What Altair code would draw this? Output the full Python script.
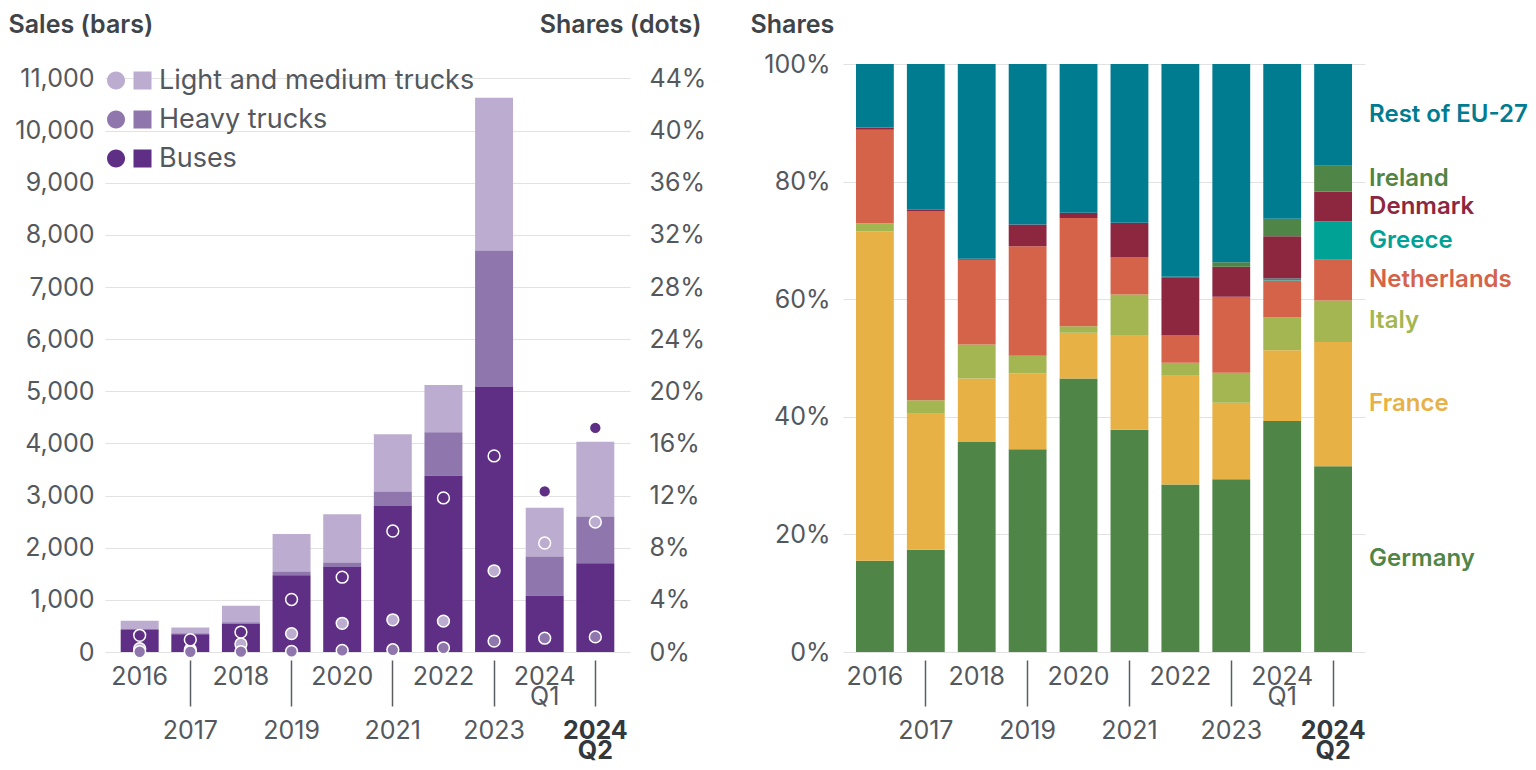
import altair as alt
import pandas as pd

FONT = "Inter"
LABEL_COLOR = "#54585d"
TITLE_COLOR = "#3f4449"
GRID_COLOR = "#e2e2e2"

periods = ["2016", "2017", "2018", "2019", "2020", "2021", "2022", "2023", "2024 Q1", "2024 Q2"]
odd_periods = ["2017", "2019", "2021", "2023", "2024 Q2"]

# ---- left panel: sales (bars) and shares (dots) ----
vehicle_types = ["Light and medium trucks", "Heavy trucks", "Buses"]
vehicle_colors = ["#bcadd0", "#8f77ae", "#5f2f86"]
vehicle_stack_order = [2, 1, 0]

sales_light = [160, 110, 315, 720, 925, 1095, 905, 2930, 935, 1435]
sales_heavy = [20, 20, 30, 75, 85, 270, 835, 2610, 750, 900]
sales_buses = [420, 340, 540, 1470, 1630, 2810, 3380, 5090, 1080, 1700]

share_light = [0.25, 0.17, 0.62, 1.41, 2.2, 2.47, 2.37, 6.23, 8.36, 9.97]
share_heavy = [0.02, 0.02, 0.03, 0.05, 0.12, 0.17, 0.32, 0.84, 1.06, 1.16]
share_buses = [1.28, 0.94, 1.53, 4.03, 5.74, 9.28, 11.82, 15.04, 12.32, 17.19]

# ---- right panel: country shares ----
countries = ["Germany", "France", "Italy", "Netherlands", "Greece", "Denmark", "Ireland", "Rest of EU-27"]
country_colors = ["#4f8546", "#e8b145", "#a4b651", "#d4634a", "#00a295", "#8d2740", "#4f8546", "#007c91"]

germany = [15.5, 17.4, 35.7, 34.5, 46.5, 37.8, 28.5, 29.4, 39.3, 31.6]
france = [56.0, 23.1, 10.8, 12.9, 7.8, 16.0, 18.5, 13.0, 12.0, 21.1]
italy = [1.4, 2.3, 5.8, 3.0, 1.1, 7.0, 2.2, 5.1, 5.6, 7.1]
netherlands = [15.9, 32.2, 14.4, 18.6, 18.4, 6.3, 4.7, 12.9, 6.3, 6.9]
greece = [0.0, 0.0, 0.0, 0.0, 0.0, 0.0, 0.0, 0.0, 0.3, 6.5]
denmark = [0.4, 0.2, 0.2, 3.7, 0.9, 5.9, 9.7, 5.1, 7.2, 5.1]
ireland = [0.0, 0.0, 0.0, 0.0, 0.0, 0.0, 0.2, 0.8, 3.0, 4.4]
rest_eu = [10.8, 24.8, 33.1, 27.3, 25.3, 27.0, 36.2, 33.7, 26.3, 17.3]

# ---- build tables ----
sales_series = [sales_light, sales_heavy, sales_buses]
share_series = [share_light, share_heavy, share_buses]
sales_rows, share_rows = [], []
for t, o, s_vals, sh_vals in zip(vehicle_types, vehicle_stack_order, sales_series, share_series):
    for p, sv, shv in zip(periods, s_vals, sh_vals):
        sales_rows.append({"period": p, "type": t, "ord": o, "sales": sv})
        share_rows.append({"period": p, "type": t, "ord": o, "share": shv})
sales_df = pd.DataFrame(sales_rows)
share_df = pd.DataFrame(share_rows)

country_series = [germany, france, italy, netherlands, greece, denmark, ireland, rest_eu]
country_rows = []
for i, (c, vals) in enumerate(zip(countries, country_series)):
    for p, v in zip(periods, vals):
        country_rows.append({"period": p, "country": c, "ord": i, "share": v})
country_df = pd.DataFrame(country_rows)

H = 588
W_L = 525
W_R = 522

odd_list = "[" + ",".join("'%s'" % p for p in odd_periods) + "]"
odd_test = "indexof(%s, datum.value) >= 0" % odd_list

# legend symbol: a dot followed by a square (unit box = the square)
DOT_SQUARE = ("M -3.94 0 A 1 1 0 1 0 -1.94 0 A 1 1 0 1 0 -3.94 0 Z "
              "M -1 -1 L 1 -1 L 1 1 L -1 1 Z")


def x_axis():
    return alt.Axis(
        title=None,
        labelAngle=0,
        domain=False,
        offset=8,
        ticks=True,
        tickSize={"condition": {"test": odd_test, "value": 46}, "value": 0},
        tickColor="#5a5e63",
        tickWidth=1.5,
        labelPadding={"condition": {"test": odd_test, "value": 12}, "value": 4},
        labelBaseline="top",
        labelFontSize=25,
        labelLineHeight=20,
        labelColor={"condition": {"test": "datum.value == '2024 Q2'", "value": "#33383d"}, "value": LABEL_COLOR},
        labelFontWeight={"condition": {"test": "datum.value == '2024 Q2'", "value": "bold"}, "value": "normal"},
        labelExpr="indexof(datum.label, ' Q') > 0 ? split(datum.label, ' ') : datum.label",
        labelOverlap=False,
        labelFlush=False,
        labelBound=False,
    )


bars = alt.Chart(sales_df).mark_bar().encode(
    x=alt.X("period:N", sort=periods,
            scale=alt.Scale(paddingInner=0.25, paddingOuter=0.31), axis=x_axis()),
    y=alt.Y("sales:Q", stack="zero",
            scale=alt.Scale(domain=[0, 11278], nice=False),
            axis=alt.Axis(values=list(range(0, 11001, 1000)), format=",d",
                          title="Sales (bars)", titleAngle=0, titleAlign="left",
                          titleBaseline="alphabetic", titleX=-97, titleY=-32,
                          grid=True, gridColor=GRID_COLOR, domain=False, ticks=False,
                          labelPadding=11, labelFontSize=25, labelColor=LABEL_COLOR)),
    color=alt.Color("type:N", scale=alt.Scale(domain=vehicle_types, range=vehicle_colors),
                    legend=alt.Legend(orient="none", legendX=24, legendY=3, title=None,
                                      symbolType=DOT_SQUARE, symbolSize=324, symbolStrokeWidth=0,
                                      labelFontSize=27, labelOffset=3, rowPadding=11, padding=0,
                                      labelColor=LABEL_COLOR, labelFont=FONT, labelLimit=500)),
    order=alt.Order("ord:Q"),
)

dots = alt.Chart(share_df).mark_circle(size=140, stroke="white", strokeWidth=1.5, opacity=1).encode(
    x=alt.X("period:N", sort=periods),
    y=alt.Y("share:Q", scale=alt.Scale(domain=[0, 45.11], nice=False),
            axis=alt.Axis(orient="right", values=list(range(0, 45, 4)),
                          labelExpr="datum.value + '%'",
                          title="Shares (dots)", titleAngle=0, titleAlign="right",
                          titleBaseline="alphabetic", titleX=71, titleY=-32,
                          grid=False, domain=False, ticks=False,
                          labelPadding=19, labelFontSize=25, labelColor=LABEL_COLOR)),
    fill=alt.Fill("type:N", scale=alt.Scale(domain=vehicle_types, range=vehicle_colors), legend=None),
)

left = alt.layer(bars, dots).resolve_scale(y="independent").properties(width=W_L, height=H)

rbars = alt.Chart(country_df).mark_bar().encode(
    x=alt.X("period:N", sort=periods,
            scale=alt.Scale(paddingInner=0.257, paddingOuter=0.255), axis=x_axis()),
    y=alt.Y("share:Q", stack="zero", scale=alt.Scale(domain=[0, 100], nice=False),
            axis=alt.Axis(values=[0, 20, 40, 60, 80, 100], labelExpr="datum.value + '%'",
                          title="Shares", titleAngle=0, titleAlign="left",
                          titleBaseline="alphabetic", titleX=-93, titleY=-32,
                          grid=True, gridColor=GRID_COLOR, domain=False, ticks=False,
                          labelPadding=13, labelFontSize=25, labelColor=LABEL_COLOR)),
    color=alt.Color("country:N", scale=alt.Scale(domain=countries, range=country_colors), legend=None),
    order=alt.Order("ord:Q"),
)

rlabels = alt.Chart(country_df).transform_filter(
    "datum.period == '2024 Q2'"
).transform_stack(
    stack="share", groupby=["period"], as_=["s0", "s1"],
    sort=[alt.SortField("ord", order="ascending")]
).transform_calculate(
    mid="(datum.s0 + datum.s1) / 2"
).mark_text(align="left", baseline="middle", dx=36, fontSize=24, fontWeight=600, font=FONT).encode(
    x=alt.X("period:N", sort=periods),
    y=alt.Y("mid:Q"),
    text="country:N",
    color=alt.Color("country:N", scale=alt.Scale(domain=countries, range=country_colors), legend=None),
)

right = alt.layer(rbars, rlabels).properties(width=W_R, height=H)

chart = alt.hconcat(left, right, spacing=44).resolve_scale(
    color="independent"
).properties(
    padding={"left": 0, "top": 4, "right": 0, "bottom": 0}
).configure_view(stroke=None).configure_axis(
    labelFont=FONT, titleFont=FONT, titleFontSize=25, titleFontWeight=600, titleColor=TITLE_COLOR
).configure_legend(labelFont=FONT)

chart.save("out.html", embed_options={"renderer": "svg", "actions": False})
